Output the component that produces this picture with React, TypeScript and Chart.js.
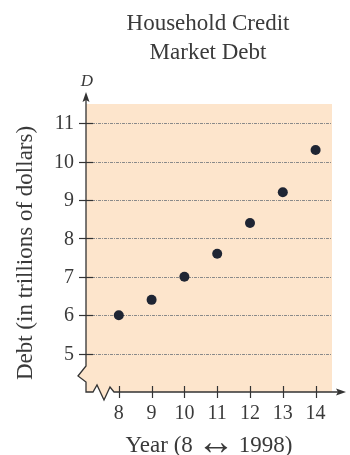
import React, { useEffect, useRef } from "react";
import { Chart, registerables } from "chart.js";

Chart.register(...registerables);

const years = [8, 9, 10, 11, 12, 13, 14];
const debt = [6.0, 6.4, 7.0, 7.6, 8.4, 9.2, 10.3];
const xTicks = [8, 9, 10, 11, 12, 13, 14];
const yTicks = [5, 6, 7, 8, 9, 10, 11];
const titleLines = ["Household Credit", "Market Debt"];
const xTitleParts = ["Year (8", "\u2194", "1998)"];
const yTitle = "Debt (in trillions of dollars)";
const yAxisLetter = "D";

const SERIF = '"Liberation Serif", "DejaVu Serif", serif';
const TEXT = "#3a3a3a";
const AXIS = "#333";
const BG = "#FDE5CC";

const decor = {
  id: "decor",
  beforeDatasetsDraw(chart: any) {
    const { ctx, chartArea } = chart;
    const { left, right, top, bottom } = chartArea;
    const xs = chart.scales.x;
    const ys = chart.scales.y;
    ctx.save();
    // background with broken-axis edges
    ctx.beginPath();
    ctx.moveTo(left, top);
    ctx.lineTo(right, top);
    ctx.lineTo(right, bottom);
    ctx.lineTo(left + 28, bottom);
    ctx.lineTo(left + 24, bottom - 5);
    ctx.lineTo(left + 18, bottom + 8);
    ctx.lineTo(left + 11, bottom - 7);
    ctx.lineTo(left + 7, bottom);
    ctx.lineTo(left, bottom);
    ctx.lineTo(left, bottom - 10);
    ctx.lineTo(left - 8, bottom - 16);
    ctx.lineTo(left, bottom - 26);
    ctx.closePath();
    ctx.fillStyle = BG;
    ctx.fill();

    // dotted grid lines
    ctx.strokeStyle = "#8a8a8a";
    ctx.lineWidth = 1;
    ctx.setLineDash([3, 1, 1, 1]);
    yTicks.forEach((v) => {
      const y = Math.round(ys.getPixelForValue(v)) + 0.5;
      ctx.beginPath();
      ctx.moveTo(left, y);
      ctx.lineTo(right, y);
      ctx.stroke();
    });
    ctx.setLineDash([]);

    // axes
    ctx.strokeStyle = AXIS;
    ctx.lineWidth = 1.3;
    ctx.beginPath();
    ctx.moveTo(left, top - 8);
    ctx.lineTo(left, bottom - 26);
    ctx.lineTo(left - 8, bottom - 16);
    ctx.lineTo(left, bottom - 10);
    ctx.lineTo(left, bottom);
    ctx.lineTo(left + 7, bottom);
    ctx.lineTo(left + 11, bottom - 7);
    ctx.lineTo(left + 18, bottom + 8);
    ctx.lineTo(left + 24, bottom - 5);
    ctx.lineTo(left + 28, bottom);
    ctx.lineTo(right + 6, bottom);
    ctx.stroke();

    // arrowheads
    ctx.fillStyle = AXIS;
    ctx.beginPath();
    ctx.moveTo(left, top - 12);
    ctx.lineTo(left + 3.5, top - 2);
    ctx.lineTo(left, top - 4);
    ctx.lineTo(left - 3.5, top - 2);
    ctx.closePath();
    ctx.fill();
    ctx.beginPath();
    ctx.moveTo(right + 14, bottom);
    ctx.lineTo(right + 4, bottom - 3.5);
    ctx.lineTo(right + 6, bottom);
    ctx.lineTo(right + 4, bottom + 3.5);
    ctx.closePath();
    ctx.fill();

    // ticks
    ctx.lineWidth = 1.2;
    yTicks.forEach((v) => {
      const y = Math.round(ys.getPixelForValue(v)) + 0.5;
      ctx.beginPath();
      ctx.moveTo(left - 7, y);
      ctx.lineTo(left + 7, y);
      ctx.stroke();
    });
    xTicks.forEach((v) => {
      const x = Math.round(xs.getPixelForValue(v)) + 0.5;
      ctx.beginPath();
      ctx.moveTo(x, bottom - 6);
      ctx.lineTo(x, bottom + 6);
      ctx.stroke();
    });

    // tick labels
    ctx.fillStyle = TEXT;
    ctx.font = `20px ${SERIF}`;
    ctx.textAlign = "right";
    ctx.textBaseline = "middle";
    yTicks.forEach((v) => {
      ctx.fillText(String(v), left - 12, ys.getPixelForValue(v) + 1);
    });
    ctx.textAlign = "center";
    ctx.textBaseline = "alphabetic";
    xTicks.forEach((v) => {
      ctx.fillText(String(v), xs.getPixelForValue(v), bottom + 27);
    });

    // titles
    ctx.font = `23px ${SERIF}`;
    ctx.fillText(titleLines[0], 208, 30);
    ctx.fillText(titleLines[1], 208, 59);

    // x title with a wide thin arrow
    const gap = 4;
    const mainFont = `23px ${SERIF}`;
    const arrowFont = `38px ${SERIF}`;
    ctx.font = mainFont;
    const w0 = ctx.measureText(xTitleParts[0]).width;
    const w2 = ctx.measureText(xTitleParts[2]).width;
    ctx.font = arrowFont;
    const w1 = ctx.measureText(xTitleParts[1]).width;
    const x0 = 209 - (w0 + w1 + w2 + 2 * gap) / 2;
    ctx.textAlign = "left";
    ctx.font = mainFont;
    ctx.fillText(xTitleParts[0], x0, 452);
    ctx.font = arrowFont;
    ctx.fillText(xTitleParts[1], x0 + w0 + gap, 454);
    ctx.font = mainFont;
    ctx.fillText(xTitleParts[2], x0 + w0 + w1 + 2 * gap, 452);

    ctx.textAlign = "center";
    ctx.font = `italic 17px ${SERIF}`;
    ctx.fillText(yAxisLetter, left + 1, 86);

    ctx.save();
    ctx.translate(26, 253);
    ctx.rotate(-Math.PI / 2);
    ctx.font = `23px ${SERIF}`;
    ctx.textBaseline = "middle";
    ctx.fillText(yTitle, 0, 0);
    ctx.restore();

    ctx.restore();
  },
};

export default function App() {
  const ref = useRef<HTMLCanvasElement | null>(null);
  useEffect(() => {
    document.body.style.margin = "0";
    const canvas = ref.current!;
    const chart = new Chart(canvas, {
      type: "scatter",
      data: {
        datasets: [
          {
            data: years.map((x, i) => ({ x, y: debt[i] })),
            backgroundColor: "#1f2533",
            borderColor: "#1f2533",
            pointRadius: 5,
            pointHoverRadius: 5,
            borderWidth: 0,
          },
        ],
      },
      options: {
        responsive: false,
        animation: false,
        layout: { padding: { left: 86, right: 18, top: 104, bottom: 63 } },
        plugins: {
          legend: { display: false },
          tooltip: { enabled: false },
          title: { display: false },
        },
        scales: {
          x: { type: "linear", min: 7, max: 14.5, display: false },
          y: { type: "linear", min: 4, max: 11.5, display: false },
        },
      },
      plugins: [decor],
    });
    return () => chart.destroy();
  }, []);
  return (
    <div style={{ position: "fixed", left: 0, top: 0, width: 350, height: 455, background: "#fff" }}>
      <canvas ref={ref} width={350} height={455} style={{ width: 350, height: 455, display: "block" }} />
    </div>
  );
}
